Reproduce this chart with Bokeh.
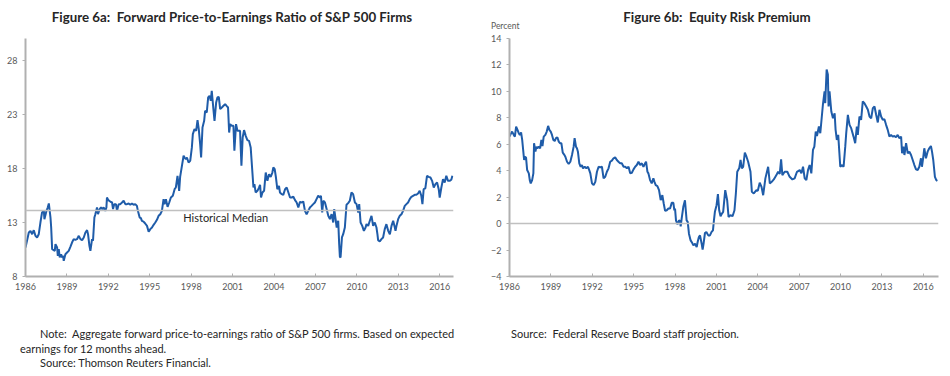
from bokeh.plotting import figure
from bokeh.layouts import row, column
from bokeh.models import FixedTicker, Span, Label, Div
from bokeh.embed import file_html
from bokeh.resources import INLINE

# ---------------- data ----------------
pe_years = [1986.00, 1986.24, 1986.36, 1986.48, 1986.60, 1986.72, 1986.84, 1986.96, 1987.08, 1987.20,
            1987.33, 1987.37, 1987.52, 1987.61, 1987.69, 1987.81, 1987.86, 1987.93, 1988.05, 1988.12,
            1988.17, 1988.29, 1988.34, 1988.41, 1988.48, 1988.58, 1988.65, 1988.72, 1988.77, 1988.89,
            1989.01, 1989.13, 1989.25, 1989.37, 1989.49, 1989.61, 1989.73, 1989.86, 1989.98, 1990.10,
            1990.22, 1990.34, 1990.46, 1990.53, 1990.63, 1990.70, 1990.77, 1990.82, 1990.89, 1990.99,
            1991.06, 1991.18, 1991.25, 1991.37, 1991.47, 1991.57, 1991.66, 1991.78, 1991.86, 1991.90,
            1992.00, 1992.14, 1992.27, 1992.34, 1992.43, 1992.55, 1992.63, 1992.75, 1992.87, 1992.99,
            1993.11, 1993.23, 1993.35, 1993.47, 1993.59, 1993.71, 1993.83, 1993.95, 1994.07, 1994.14,
            1994.27, 1994.36, 1994.43, 1994.55, 1994.67, 1994.80, 1994.92, 1995.04, 1995.16, 1995.28,
            1995.40, 1995.52, 1995.64, 1995.76, 1995.88, 1996.00, 1996.07, 1996.17, 1996.29, 1996.41,
            1996.53, 1996.67, 1996.80, 1996.89, 1997.01, 1997.13, 1997.20, 1997.33, 1997.45, 1997.52,
            1997.61, 1997.69, 1997.81, 1997.93, 1998.05, 1998.12, 1998.24, 1998.36, 1998.46, 1998.55,
            1998.65, 1998.72, 1998.82, 1998.94, 1999.01, 1999.13, 1999.23, 1999.33, 1999.42, 1999.49,
            1999.61, 1999.69, 1999.81, 1999.90, 2000.00, 2000.10, 2000.22, 2000.34, 2000.46, 2000.58,
            2000.67, 2000.75, 2000.82, 2000.94, 2001.06, 2001.13, 2001.25, 2001.35, 2001.45, 2001.54,
            2001.64, 2001.73, 2001.83, 2001.95, 2002.07, 2002.19, 2002.31, 2002.41, 2002.51, 2002.58,
            2002.67, 2002.80, 2002.92, 2002.99, 2003.06, 2003.16, 2003.28, 2003.40, 2003.52, 2003.64,
            2003.76, 2003.88, 2003.95, 2004.05, 2004.14, 2004.24, 2004.36, 2004.43, 2004.55, 2004.67,
            2004.80, 2004.92, 2005.04, 2005.16, 2005.28, 2005.40, 2005.52, 2005.64, 2005.76, 2005.88,
            2006.00, 2006.12, 2006.24, 2006.36, 2006.48, 2006.60, 2006.72, 2006.84, 2006.96, 2007.08,
            2007.20, 2007.33, 2007.40, 2007.49, 2007.57, 2007.69, 2007.81, 2007.93, 2008.05, 2008.17,
            2008.29, 2008.36, 2008.46, 2008.54, 2008.65, 2008.72, 2008.77, 2008.82, 2008.92, 2009.01,
            2009.13, 2009.25, 2009.37, 2009.49, 2009.61, 2009.73, 2009.86, 2009.98, 2010.10, 2010.17,
            2010.27, 2010.39, 2010.51, 2010.63, 2010.70, 2010.82, 2010.94, 2011.06, 2011.18, 2011.30,
            2011.42, 2011.49, 2011.54, 2011.66, 2011.78, 2011.90, 2012.02, 2012.14, 2012.27, 2012.39,
            2012.51, 2012.63, 2012.75, 2012.80, 2012.87, 2012.99, 2013.11, 2013.23, 2013.35, 2013.47,
            2013.59, 2013.71, 2013.83, 2013.95, 2014.07, 2014.19, 2014.31, 2014.43, 2014.55, 2014.67,
            2014.75, 2014.84, 2014.96, 2015.08, 2015.20, 2015.33, 2015.45, 2015.57, 2015.69, 2015.81,
            2015.93, 2016.00, 2016.12, 2016.24, 2016.36, 2016.48, 2016.60, 2016.72, 2016.84, 2016.92]
pe_values = [10.68, 12.07, 12.22, 11.91, 12.28, 11.76, 11.61, 11.91, 12.99, 13.92,
             14.07, 13.30, 14.07, 14.38, 14.75, 13.45, 12.53, 10.53, 10.43, 10.37,
             10.99, 10.68, 9.91, 10.53, 9.76, 10.06, 9.76, 9.91, 9.45, 10.06,
             10.22, 10.37, 10.74, 11.14, 11.45, 11.39, 11.45, 11.76, 11.45, 11.36,
             11.61, 12.07, 12.28, 11.91, 10.84, 10.37, 10.99, 11.45, 11.30, 13.45,
             13.76, 14.38, 13.76, 14.23, 14.38, 14.23, 14.38, 14.07, 14.38, 15.30,
             15.06, 14.93, 14.84, 14.23, 14.69, 14.69, 14.07, 14.69, 14.69, 14.84,
             15.00, 14.69, 14.69, 14.75, 14.63, 14.75, 14.63, 14.69, 14.53, 14.07,
             13.45, 13.39, 13.15, 13.08, 12.90, 12.68, 12.13, 12.38, 12.53, 12.78,
             12.99, 13.24, 13.61, 13.76, 14.07, 15.15, 14.69, 15.15, 14.44, 14.84,
             15.30, 15.46, 16.07, 16.23, 17.31, 15.92, 17.21, 18.23, 19.16, 19.00,
             18.85, 19.00, 18.54, 18.69, 19.93, 21.16, 21.62, 21.47, 22.45, 21.62,
             20.23, 19.00, 21.78, 22.39, 23.32, 23.16, 24.55, 24.70, 24.24, 25.16,
             23.47, 22.39, 24.09, 24.55, 24.61, 23.47, 23.62, 23.78, 23.93, 23.75,
             23.62, 21.31, 22.08, 21.93, 21.93, 19.62, 22.08, 21.47, 21.47, 21.47,
             18.23, 20.85, 21.53, 21.00, 20.60, 20.54, 19.93, 18.08, 16.23, 16.54,
             15.77, 15.92, 16.23, 16.47, 15.30, 15.77, 15.92, 17.61, 16.84, 17.46,
             17.21, 17.61, 18.08, 17.92, 17.15, 16.07, 16.38, 15.77, 15.61, 15.55,
             16.07, 16.23, 15.77, 15.30, 15.30, 15.37, 15.06, 14.84, 14.38, 14.90,
             14.84, 14.93, 14.07, 13.76, 14.07, 14.38, 14.53, 14.69, 14.84, 15.15,
             15.46, 15.30, 15.46, 13.92, 15.00, 14.84, 14.23, 13.61, 13.30, 13.76,
             12.99, 14.23, 13.30, 12.53, 13.15, 10.99, 9.82, 9.76, 11.61, 11.91,
             12.53, 14.63, 14.78, 15.00, 15.77, 15.61, 14.84, 14.69, 13.92, 14.69,
             12.99, 12.68, 12.22, 12.53, 12.84, 12.68, 13.15, 13.61, 12.68, 12.99,
             12.53, 11.91, 11.36, 11.24, 11.45, 11.61, 12.38, 12.84, 12.22, 11.91,
             12.68, 13.15, 12.53, 12.22, 12.68, 13.30, 13.61, 13.76, 14.07, 14.53,
             14.69, 14.84, 15.15, 15.37, 15.46, 15.55, 15.55, 15.67, 15.92, 15.46,
             14.69, 16.07, 16.14, 17.31, 17.21, 17.15, 16.84, 16.23, 16.54, 16.69,
             16.07, 15.30, 16.23, 17.00, 16.69, 17.31, 16.84, 16.84, 16.94, 17.31]
pe_median = 14.1

erp_years = [1986.00, 1986.12, 1986.19, 1986.31, 1986.39, 1986.48, 1986.58, 1986.67, 1986.75, 1986.84,
             1986.92, 1986.99, 1987.06, 1987.13, 1987.20, 1987.28, 1987.40, 1987.47, 1987.54, 1987.64,
             1987.73, 1987.78, 1987.88, 1987.95, 1988.02, 1988.12, 1988.22, 1988.31, 1988.39, 1988.48,
             1988.60, 1988.70, 1988.80, 1988.89, 1988.99, 1989.08, 1989.18, 1989.28, 1989.37, 1989.47,
             1989.57, 1989.66, 1989.76, 1989.86, 1989.95, 1990.05, 1990.17, 1990.29, 1990.41, 1990.53,
             1990.65, 1990.72, 1990.82, 1990.89, 1990.96, 1991.06, 1991.16, 1991.25, 1991.33, 1991.45,
             1991.57, 1991.69, 1991.78, 1991.86, 1991.98, 1992.10, 1992.22, 1992.34, 1992.46, 1992.58,
             1992.70, 1992.82, 1992.94, 1993.06, 1993.18, 1993.30, 1993.42, 1993.54, 1993.66, 1993.78,
             1993.90, 1994.02, 1994.14, 1994.27, 1994.39, 1994.51, 1994.63, 1994.75, 1994.87, 1994.99,
             1995.11, 1995.23, 1995.35, 1995.47, 1995.59, 1995.71, 1995.83, 1995.90, 1996.00, 1996.07,
             1996.19, 1996.31, 1996.43, 1996.51, 1996.60, 1996.72, 1996.84, 1996.96, 1997.08, 1997.18,
             1997.28, 1997.40, 1997.52, 1997.64, 1997.76, 1997.88, 1997.95, 1998.00, 1998.07, 1998.17,
             1998.29, 1998.36, 1998.41, 1998.48, 1998.60, 1998.72, 1998.84, 1998.92, 1999.01, 1999.13,
             1999.25, 1999.33, 1999.45, 1999.57, 1999.64, 1999.73, 1999.81, 1999.93, 2000.00, 2000.07,
             2000.17, 2000.27, 2000.41, 2000.53, 2000.65, 2000.75, 2000.82, 2000.89, 2001.01, 2001.11,
             2001.20, 2001.30, 2001.40, 2001.49, 2001.64, 2001.78, 2001.88, 2002.02, 2002.17, 2002.31,
             2002.41, 2002.51, 2002.65, 2002.75, 2002.84, 2002.94, 2003.06, 2003.18, 2003.30, 2003.47,
             2003.57, 2003.71, 2003.90, 2004.00, 2004.14, 2004.27, 2004.39, 2004.55, 2004.75, 2004.87,
             2005.01, 2005.16, 2005.35, 2005.47, 2005.59, 2005.69, 2005.78, 2005.95, 2006.14, 2006.31,
             2006.51, 2006.67, 2006.84, 2007.04, 2007.16, 2007.28, 2007.40, 2007.52, 2007.64, 2007.76,
             2007.88, 2008.00, 2008.10, 2008.20, 2008.29, 2008.43, 2008.53, 2008.63, 2008.72, 2008.84,
             2008.89, 2008.99, 2009.08, 2009.13, 2009.20, 2009.33, 2009.45, 2009.57, 2009.64, 2009.73,
             2009.83, 2009.98, 2010.12, 2010.22, 2010.34, 2010.41, 2010.53, 2010.65, 2010.77, 2010.94,
             2011.06, 2011.18, 2011.25, 2011.37, 2011.49, 2011.61, 2011.73, 2011.86, 2011.98, 2012.10,
             2012.22, 2012.34, 2012.46, 2012.58, 2012.70, 2012.82, 2012.94, 2013.06, 2013.18, 2013.30,
             2013.42, 2013.54, 2013.66, 2013.78, 2013.90, 2014.02, 2014.14, 2014.27, 2014.39, 2014.46,
             2014.55, 2014.63, 2014.75, 2014.87, 2014.99, 2015.11, 2015.23, 2015.35, 2015.47, 2015.59,
             2015.71, 2015.83, 2015.90, 2016.00, 2016.07, 2016.19, 2016.31, 2016.43, 2016.55, 2016.63,
             2016.72, 2016.84, 2016.94, 2017.02]
erp_values = [6.58, 6.84, 6.96, 6.71, 6.58, 7.34, 7.09, 6.84, 6.71, 6.89,
              6.33, 5.57, 4.81, 5.06, 4.99, 4.05, 3.80, 3.29, 3.04, 3.29,
              3.80, 6.08, 5.44, 5.82, 5.70, 5.82, 5.70, 6.33, 5.87, 6.58,
              6.71, 6.96, 7.39, 7.09, 6.96, 6.71, 6.33, 6.25, 6.46, 6.53,
              6.20, 6.08, 6.08, 5.37, 5.24, 5.06, 4.68, 4.51, 4.68, 5.19,
              5.82, 6.46, 5.82, 5.70, 5.44, 4.56, 4.30, 4.43, 4.18, 4.30,
              4.18, 4.30, 4.05, 3.80, 3.04, 2.91, 3.16, 3.92, 4.30, 4.25,
              4.30, 3.42, 3.54, 3.92, 4.18, 4.68, 4.76, 4.94, 5.01, 4.81,
              4.68, 4.56, 4.56, 4.30, 4.30, 4.18, 4.30, 3.80, 3.85, 4.10,
              4.30, 4.43, 4.68, 4.43, 4.56, 4.30, 4.56, 4.68, 3.92, 3.80,
              3.29, 3.04, 3.42, 3.16, 2.91, 2.84, 2.53, 1.77, 2.15, 1.52,
              0.96, 1.01, 1.14, 1.14, 1.57, 1.57, 1.01, 1.14, 0.25, -0.05,
              0.25, 0.18, -0.20, 0.38, 1.27, 1.77, 0.25, 0.13, -0.76, -1.27,
              -1.47, -1.65, -1.52, -1.77, -1.39, -1.01, -0.89, -1.52, -1.97, -1.52,
              -0.71, -0.63, -0.89, -0.89, -0.63, -0.51, 0.25, 0.89, 1.39, 2.23,
              1.01, 0.56, 0.76, 0.89, 2.53, 1.77, 0.51, 0.63, 0.56, 1.01,
              2.28, 3.92, 4.18, 4.81, 4.18, 4.30, 5.37, 5.06, 4.68, 3.92,
              2.41, 2.28, 2.53, 2.48, 3.09, 2.78, 2.15, 3.42, 4.30, 3.04,
              3.16, 3.34, 3.67, 3.92, 3.75, 4.86, 3.67, 3.92, 3.92, 3.54,
              3.34, 3.42, 3.92, 4.05, 3.80, 4.30, 3.42, 3.29, 4.05, 4.43,
              3.80, 5.57, 5.82, 6.96, 6.63, 7.34, 6.84, 7.97, 8.99, 10.00,
              9.11, 11.65, 11.27, 8.86, 10.00, 8.48, 7.97, 8.35, 7.09, 6.33,
              6.71, 4.30, 4.43, 4.30, 5.82, 6.84, 8.23, 7.47, 7.22, 6.58,
              6.08, 7.34, 6.71, 8.10, 7.85, 9.24, 9.11, 8.86, 8.61, 8.10,
              7.97, 8.73, 8.86, 8.23, 7.65, 8.61, 8.10, 7.85, 7.90, 7.47,
              7.09, 6.58, 6.71, 6.58, 6.63, 6.53, 6.71, 6.46, 6.58, 5.32,
              5.82, 5.19, 6.08, 5.32, 5.44, 5.19, 4.81, 4.43, 4.10, 4.05,
              4.30, 4.94, 4.30, 5.06, 5.70, 4.94, 5.44, 5.70, 5.87, 5.44,
              4.81, 3.54, 3.29, 3.24]

year_ticks = [1986, 1989, 1992, 1995, 1998, 2001, 2004, 2007, 2010, 2013, 2016]
pe_ticks = [8, 13, 18, 23, 28]
erp_ticks = [-4, -2, 0, 2, 4, 6, 8, 10, 12, 14]

title_a = "Figure 6a:  Forward Price-to-Earnings Ratio of S&amp;P 500 Firms"
title_b = "Figure 6b:  Equity Risk Premium"
note_a = ["Note:  Aggregate forward price-to-earnings ratio of S&amp;P 500 firms. Based on expected",
          "earnings for 12 months ahead.",
          "Source: Thomson Reuters Financial."]
note_b = "Source:  Federal Reserve Board staff projection."

# ---------------- style ----------------
FONT = "Lato"
LINE = "#1f5ca9"
AXIS = "#b0b0b0"
TICKTXT = "#595959"
TXT = "#262626"
W, H = 475, 270


def style(p, yt):
    p.xgrid.visible = False
    p.ygrid.visible = False
    p.outline_line_color = None
    p.background_fill_color = "white"
    p.border_fill_color = "white"
    for ax in (p.xaxis[0], p.yaxis[0]):
        ax.axis_line_color = AXIS
        ax.axis_line_width = 2
        ax.major_label_text_font = FONT
        ax.major_label_text_font_size = "9px"
        ax.major_label_text_color = TICKTXT
        ax.minor_tick_line_color = None
        ax.major_tick_line_color = AXIS
        ax.major_tick_line_width = 1
    p.xaxis[0].ticker = FixedTicker(ticks=year_ticks)
    p.xaxis[0].major_tick_in = 3
    p.xaxis[0].major_tick_out = 0
    p.xaxis[0].major_label_standoff = 6
    p.yaxis[0].ticker = FixedTicker(ticks=yt)
    p.yaxis[0].major_tick_in = 0
    p.yaxis[0].major_tick_out = 3
    p.yaxis[0].major_label_standoff = 5


def span(x, y, text, size, weight="normal", color=TXT, center=False):
    tr = "translate(-50%,-50%)" if center else "translate(0,-50%)"
    return (f'<span style="position:absolute;left:{x}px;top:{y}px;transform:{tr};'
            f'white-space:pre;font-family:{FONT};font-size:{size}px;font-weight:{weight};'
            f'color:{color};line-height:1;">{text}</span>')


def box(w, h, inner):
    return f'<div style="position:relative;width:{w}px;height:{h}px;">{inner}</div>'


# ---------------- header ----------------
header = Div(width=950, height=30, margin=(0, 0, 0, 0),
             text=box(950, 30,
                      span(232, 18, title_a, 13.3, "bold", center=True)
                      + span(717, 18, title_b, 13.3, "bold", center=True)
                      + span(491, 26, "Percent", 8.5, color=TICKTXT)))

# ---------------- left ----------------
p1 = figure(width=W, height=H, x_range=(1986, 2017), y_range=(8, 30),
            output_backend="svg", toolbar_location=None,
            min_border_left=25, min_border_right=22, min_border_top=8, min_border_bottom=24)
style(p1, pe_ticks)
p1.add_layout(Span(location=pe_median, dimension="width", line_color="#c0c0c0", line_width=1.5))
p1.line(pe_years, pe_values, line_color=LINE, line_width=2)
p1.add_layout(Label(x=2000.5, y=13.5, text="Historical Median", text_font=FONT,
                    text_font_size="11px", text_color=TXT, text_align="center",
                    text_baseline="middle"))

# ---------------- right ----------------
p2 = figure(width=W, height=H, x_range=(1986, 2017.1), y_range=(-4, 14),
            output_backend="svg", toolbar_location=None,
            min_border_left=34, min_border_right=12, min_border_top=8, min_border_bottom=24)
style(p2, erp_ticks)
p2.add_layout(Span(location=0, dimension="width", line_color="#c0c0c0", line_width=1.5))
p2.line(erp_years, erp_values, line_color=LINE, line_width=2)

# ---------------- footer ----------------
footer = Div(width=950, height=68, margin=(0, 0, 0, 0),
             text=box(950, 68,
                      span(40, 33, note_a[0], 11)
                      + span(20, 48, note_a[1], 11)
                      + span(40, 62, note_a[2], 11)
                      + span(511, 33, note_b, 11)))

layout = column(header, row(p1, p2), footer)
open("out.html", "w").write(file_html(layout, INLINE))
